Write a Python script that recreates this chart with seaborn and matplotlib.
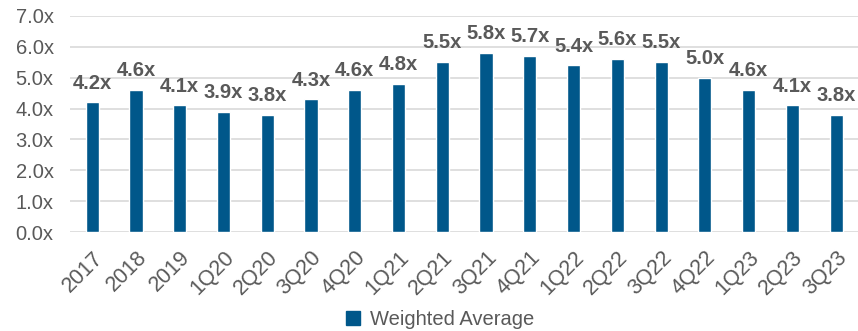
import numpy as np
import pandas as pd
import seaborn as sns
import matplotlib.pyplot as plt
from matplotlib.patches import Patch

# chart data
periods = ['2017', '2018', '2019', '1Q20', '2Q20', '3Q20', '4Q20', '1Q21', '2Q21',
           '3Q21', '4Q21', '1Q22', '2Q22', '3Q22', '4Q22', '1Q23', '2Q23', '3Q23']
weighted_avg = [4.2, 4.6, 4.1, 3.9, 3.8, 4.3, 4.6, 4.8, 5.5,
                5.8, 5.7, 5.4, 5.6, 5.5, 5.0, 4.6, 4.1, 3.8]
y_ticks = [0, 1, 2, 3, 4, 5, 6, 7]

bar_color = '#00578A'
text_color = '#595959'

sns.set_theme(style='white')
plt.rcParams['font.family'] = ['Liberation Sans', 'DejaVu Sans']

df = pd.DataFrame({'period': periods, 'value': weighted_avg})

fig = plt.figure(figsize=(8.58, 3.31), dpi=100)
ax = fig.add_axes([0.082, 0.299, 0.918, 0.653])

sns.barplot(data=df, x='period', y='value', color=bar_color, saturation=1,
            width=0.3, ax=ax)

# value labels above bars
for i, v in enumerate(weighted_avg):
    ax.annotate(f'{v:.1f}x', (i, v), xytext=(0, 7), textcoords='offset points',
                ha='center', va='bottom', fontsize=14.5, fontweight='bold',
                color=text_color)

ax.set_ylim(0, 7)
ax.set_xlim(-0.5, len(periods) - 0.5)
ax.set_yticks(y_ticks)
ax.set_yticklabels([f'{t:.1f}x' for t in y_ticks])
ax.yaxis.grid(True, color='#d9d9d9', linewidth=1.2)
ax.set_axisbelow(True)
ax.tick_params(axis='both', length=0, labelsize=14.5, labelcolor=text_color)
ax.tick_params(axis='y', pad=12)
ax.tick_params(axis='x', pad=11, labelsize=15.5)
plt.setp(ax.get_xticklabels(), rotation=45, ha='right', rotation_mode='anchor')
ax.set_xlabel('')
ax.set_ylabel('')
for s in ax.spines.values():
    s.set_visible(False)

fig.legend(handles=[Patch(color=bar_color, label='Weighted Average')],
           loc='lower center', bbox_to_anchor=(0.513, -0.05), frameon=False,
           fontsize=14.5, labelcolor=text_color, handlelength=0.7,
           handleheight=0.7, handletextpad=0.5)

fig.savefig('out.png', dpi=100)
